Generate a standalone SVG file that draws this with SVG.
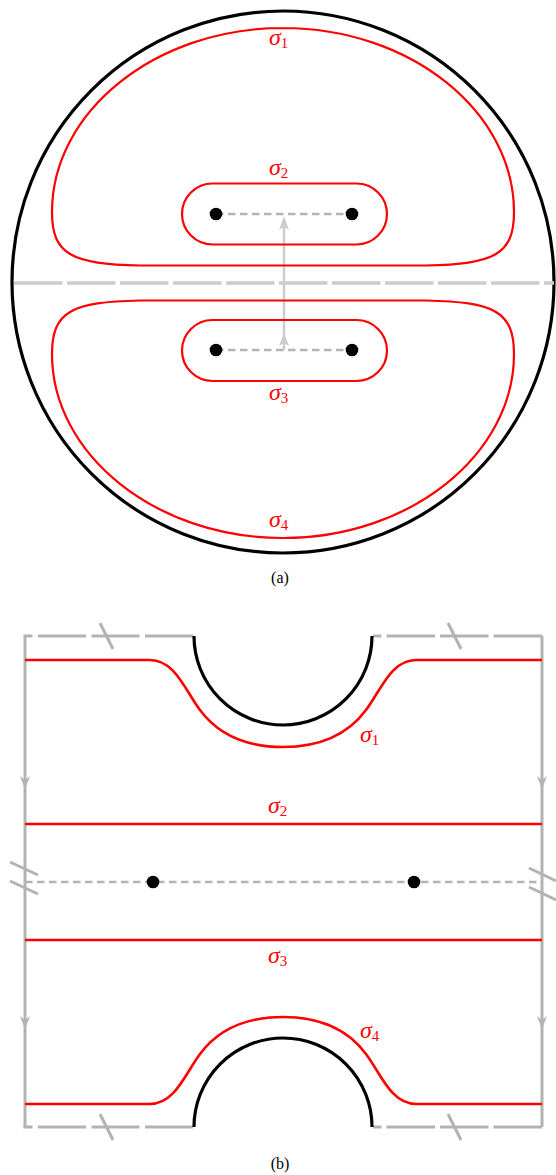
<svg xmlns="http://www.w3.org/2000/svg" width="556" height="1175" viewBox="0 0 556 1175">
<style>
.red{fill:none;stroke:#ff0000;stroke-width:2.2}
.redb{fill:none;stroke:#ff0000;stroke-width:2.6}
.blk{fill:none;stroke:#000;stroke-width:3.2}
.lg{fill:none;stroke:#cccccc;stroke-width:3.5}
.gl{fill:none;stroke:#b3b3b3;stroke-width:3}
.fine{fill:none;stroke:#b3b3b3;stroke-width:2.6;stroke-dasharray:7.5 4.5}
.dot{fill:#000}
.lab{font-family:"Liberation Serif",serif;font-style:italic;font-size:24px;fill:#ff0000}
.sub{font-style:normal;font-size:15px}
.cap{font-family:"Liberation Serif",serif;font-size:16px;fill:#000;text-anchor:middle}
.ah{fill:#b3b3b3}
.ahl{fill:#cccccc}
</style>
<g id="diagram-a">
  <g id="disk"><circle class="blk" cx="283" cy="282" r="271"/></g>
  <g id="connectors-a">
    <path class="lg" d="M14 283 L554 283" stroke-dasharray="48.5 4.5"/>
    <path class="fine" d="M216 214 L352 214"/>
    <path class="fine" d="M216 350 L352 350"/>
    <path d="M284 350 L284 226" fill="none" stroke="#cccccc" stroke-width="2.5"/>
    <path class="ahl" d="M284 216 L289 230 L284 227 L279 230 Z"/>
    <path class="ahl" d="M284 333 L289 346 L284 343 L279 346 Z"/>
  </g>
  <g id="sigma1-a"><path class="red" d="M283 28 C155.4 28 52 111.7 52 212 C52 255 72 264 140 265.5 L426 265.5 C494 264 514 255 514 212 C514 111.7 410.6 28 283 28 Z"/>
    <text class="lab" x="269" y="45">σ<tspan class="sub" dy="3">1</tspan></text></g>
  <g id="sigma2-a"><rect class="red" x="182" y="183.5" width="205" height="61" rx="30.5"/>
    <text class="lab" x="269" y="175">σ<tspan class="sub" dy="3">2</tspan></text></g>
  <g id="sigma3-a"><rect class="red" x="182" y="320" width="205" height="61" rx="30.5"/>
    <text class="lab" x="269" y="400">σ<tspan class="sub" dy="3">3</tspan></text></g>
  <g id="sigma4-a"><path class="red" d="M283 538 C155.4 538 52 454.3 52 354 C52 311 72 302 140 300.5 L426 300.5 C494 302 514 311 514 354 C514 454.3 410.6 538 283 538 Z"/>
    <text class="lab" x="269" y="527">σ<tspan class="sub" dy="3">4</tspan></text></g>
  <g id="points-a">
    <circle class="dot" cx="216" cy="214" r="6.3"/><circle class="dot" cx="352" cy="214" r="6.3"/>
    <circle class="dot" cx="216" cy="350" r="6.3"/><circle class="dot" cx="352" cy="350" r="6.3"/>
  </g>
  <text class="cap" x="280" y="583">(a)</text>
</g>
<g id="diagram-b">
  <g id="frame-b">
    <path class="gl" d="M25 636 L25 1127"/>
    <path class="gl" d="M542 636 L542 1127"/>
    <path class="gl" d="M193 636 L23.5 636" stroke-dasharray="48 5.5"/>
    <path class="gl" d="M542 636 L373 636" stroke-dasharray="48.5 5"/>
    <path class="gl" d="M193 1127 L23.5 1127" stroke-dasharray="48 5.5"/>
    <path class="gl" d="M542 1127 L373 1127" stroke-dasharray="48.5 5"/>
    <path class="gl" d="M100 623 L113 649 M448 623 L461 649 M100 1114 L113 1140 M448 1114 L461 1140"/>
    <path class="gl" d="M10 862 L38 875 M10 881 L38 894 M529 868 L556 881 M529 887 L556 900"/>
    <path class="ah" d="M25 789 L30 776 L25 780 L20 776 Z"/>
    <path class="ah" d="M25 1029 L30 1016 L25 1020 L20 1016 Z"/>
    <path class="ah" d="M542 789 L547 776 L542 780 L537 776 Z"/>
    <path class="ah" d="M542 1029 L547 1016 L542 1020 L537 1016 Z"/>
  </g>
  <g id="holes-b">
    <path class="blk" d="M194 636 A89 89 0 0 0 372 636"/>
    <path class="blk" d="M194 1127 A89 89 0 0 1 372 1127"/>
  </g>
  <g id="connectors-b"><path class="fine" d="M25 882 L542 882"/></g>
  <g id="sigma1-b"><path class="redb" d="M25 660 L150 660 C175 660 185 690 200 710 C220 737 250 747 283 747 C316 747 346 737 366 710 C381 690 391 660 416 660 L542 660"/>
    <text class="lab" x="360" y="742">σ<tspan class="sub" dy="3">1</tspan></text></g>
  <g id="sigma2-b"><path class="redb" d="M25 824 L542 824"/>
    <text class="lab" x="268" y="813">σ<tspan class="sub" dy="3">2</tspan></text></g>
  <g id="sigma3-b"><path class="redb" d="M25 940 L542 940"/>
    <text class="lab" x="268" y="963">σ<tspan class="sub" dy="3">3</tspan></text></g>
  <g id="sigma4-b"><path class="redb" d="M25 1104 L150 1104 C175 1104 185 1074 200 1054 C220 1027 250 1017 283 1017 C316 1017 346 1027 366 1054 C381 1074 391 1104 416 1104 L542 1104"/>
    <text class="lab" x="360" y="1038">σ<tspan class="sub" dy="3">4</tspan></text></g>
  <g id="points-b"><circle class="dot" cx="153" cy="882" r="6.3"/><circle class="dot" cx="414" cy="882" r="6.3"/></g>
  <text class="cap" x="280" y="1169">(b)</text>
</g>
</svg>
